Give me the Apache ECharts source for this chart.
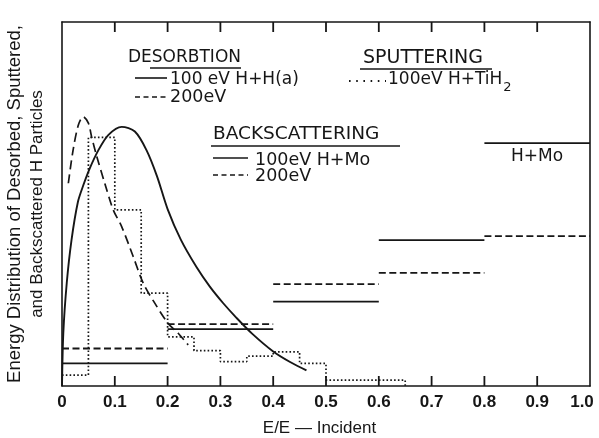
<!DOCTYPE html>
<html>
<head>
<meta charset="utf-8">
<script src="https://cdn.jsdelivr.net/npm/echarts@6/dist/echarts.min.js"></script>
<style>
  html, body { margin: 0; padding: 0; background: #fff; }
  #chart { width: 599px; height: 438px; }
</style>
</head>
<body>
<div id="chart"></div>
<script>
// Tick positions along E/E-incident
const xTicks = [0, 0.1, 0.2, 0.3, 0.4, 0.5, 0.6, 0.7, 0.8, 0.9, 1.0];

// Desorption, 100 eV H+H(a): [E/E0, relative yield]
const desorb100E = [0, 0.0025, 0.009, 0.018, 0.030, 0.040, 0.052, 0.069, 0.088, 0.113, 0.138, 0.160, 0.180, 0.200, 0.225, 0.255, 0.280, 0.305, 0.330, 0.360, 0.400, 0.432, 0.463];
const desorb100Y = [0, 14.6, 28.3, 40.1, 50.5, 55.0, 59.6, 64.8, 69.0, 71.2, 69.9, 64.8, 57.6, 48.6, 40.2, 32.6, 27.3, 22.8, 18.8, 14.4, 9.5, 6.6, 4.3];

// Desorption, 200 eV
const desorb200E = [0.012, 0.021, 0.031, 0.040, 0.050, 0.056, 0.066, 0.081, 0.097, 0.113, 0.135, 0.154, 0.176, 0.201, 0.220, 0.239];
const desorb200Y = [55.7, 64.8, 71.7, 74.0, 72.2, 68.5, 63.0, 55.7, 48.4, 43.8, 35.5, 28.2, 22.7, 17.2, 14.5, 11.3];

// Sputtering, 100 eV H+TiH2 (histogram bins)
const sputterEdges = [0, 0.05, 0.1, 0.15, 0.2, 0.25, 0.3, 0.35, 0.4, 0.45, 0.5, 0.65];
const sputterValues = [3.0, 68.3, 48.4, 25.5, 13.5, 9.7, 6.7, 8.2, 9.4, 6.2, 1.6];

// Backscattering from Mo (histogram bins)
const backEdges = [0, 0.2, 0.4, 0.6, 0.8, 1.0];
const back100 = [6.2, 15.6, 23.2, 40.1, 66.7];
const back200 = [10.3, 17.0, 28.0, 31.1, 41.2];

const INK = '#161616';
const FONT = '"Liberation Sans", Arial, sans-serif';
const KEYFONT = '"DejaVu Sans", Verdana, sans-serif';
const TICK_LEN = 10;
const TICK_W = 1.8;
const Y_MIN = 0, Y_MAX = 100;

function pairs(xs, ys) { return xs.map((x, i) => [x, ys[i]]); }

// step outline of a histogram, closed down to zero at the last edge
function stepOutline(edges, vals) {
  const pts = vals.map((v, i) => [edges[i], v]);
  const last = edges[edges.length - 1];
  pts.push([last, vals[vals.length - 1]]);
  pts.push([last, 0]);
  return pts;
}

// separate horizontal segments, one per bin
function binSegments(edges, vals) {
  const pts = [];
  vals.forEach((v, i) => {
    pts.push([edges[i], v]);
    pts.push([edges[i + 1], v]);
    pts.push([edges[i + 1], '-']);
  });
  return pts;
}

function textWidth(str, font) {
  const ctx = document.createElement('canvas').getContext('2d');
  ctx.font = font;
  return ctx.measureText(str).width;
}

const chart = echarts.init(document.getElementById('chart'), null, { renderer: 'canvas' });

function frameLine() { return { show: true, onZero: false, lineStyle: { color: INK, width: 1.6, type: 'solid' } }; }

function keyText(str, x, y, size) {
  return { type: 'text', style: { text: str, x: x, y: y, verticalAlign: 'middle', font: size + 'px ' + KEYFONT, fill: INK } };
}
function keyLine(x1, y, x2, dash, width) {
  return { type: 'line', shape: { x1: x1, y1: y, x2: x2, y2: y }, style: { stroke: INK, lineWidth: width || 1.6, lineDash: dash || null } };
}

const sputLabel = '100eV H+TiH';
const sputFont = '17px ' + KEYFONT;
const sputX = 388;
const subX = sputX + textWidth(sputLabel, sputFont) + 1;

const keyGraphics = [
  // DESORBTION key
  keyText('DESORBTION', 128, 58, 17),
  keyLine(150, 68, 241, null, 1.5),
  keyLine(135, 78, 167),
  keyText('100 eV H+H(a)', 170, 80, 17),
  keyLine(135, 97, 167, [5, 3.5]),
  keyText('200eV', 170, 97, 17.5),

  // SPUTTERING key
  keyText('SPUTTERING', 363, 58, 19),
  keyLine(360, 69, 492, null, 1.5),
  keyLine(349, 81, 386, [1.6, 5.6], 1.8),
  { type: 'text', style: { text: sputLabel, x: sputX, y: 80, verticalAlign: 'middle', font: sputFont, fill: INK } },
  { type: 'text', style: { text: '2', x: subX, y: 88, verticalAlign: 'middle', font: '13px ' + KEYFONT, fill: INK } },

  // BACKSCATTERING key
  keyText('BACKSCATTERING', 213, 134, 18.5),
  keyLine(211, 146, 400, null, 1.5),
  keyLine(213, 158, 248),
  keyText('100eV H+Mo', 255, 160, 17.5),
  keyLine(213, 175, 248, [5, 3.5]),
  keyText('200eV', 255, 176, 17.5),

  // target label for the high-energy bins
  keyText('H+Mo', 511, 157, 17)
];

const option = {
  backgroundColor: '#fff',
  animation: false,
  grid: { left: 62, right: 9, top: 22, bottom: 52, containLabel: false, outerBoundsMode: 'none' },
  xAxis: [
    {
      type: 'value', min: 0, max: 1, interval: 0.1, position: 'bottom',
      axisLine: frameLine(),
      axisTick: { show: false },
      splitLine: { show: false },
      axisLabel: {
        show: true, margin: 8, color: INK, fontFamily: FONT, fontSize: 17, fontWeight: 'bold',
        formatter: v => {
          const t = xTicks.find(k => Math.abs(k - v) < 1e-6);
          if (t === undefined) return '';
          if (t === 0) return '0';
          if (t === 1) return '{last|1.0}';
          return t.toFixed(1);
        },
        rich: { last: { padding: [0, 16, 0, 0], fontFamily: FONT, fontSize: 17, fontWeight: 'bold', color: INK } }
      },
      name: 'E/E \u2014 Incident', nameLocation: 'middle', nameGap: 34,
      nameTextStyle: { color: INK, fontFamily: FONT, fontSize: 17, padding: [0, 13, 0, 0] }
    },
    {
      type: 'value', min: 0, max: 1, interval: 0.1, position: 'top',
      axisLine: frameLine(),
      axisTick: { show: false },
      axisLabel: { show: false }, splitLine: { show: false }
    }
  ],
  yAxis: [
    {
      type: 'value', min: Y_MIN, max: Y_MAX, position: 'left',
      axisLine: frameLine(),
      axisTick: { show: false }, axisLabel: { show: false }, splitLine: { show: false },
      name: '{a|Energy Distribution of Desorbed, Sputtered,}\n{b|and Backscattered H Particles}',
      nameLocation: 'middle', nameRotate: 90, nameGap: 13,
      nameTextStyle: {
        color: INK, fontFamily: FONT, align: 'center',
        rich: {
          a: { fontFamily: FONT, fontSize: 18.5, lineHeight: 23, color: INK },
          b: { fontFamily: FONT, fontSize: 17, lineHeight: 23, color: INK }
        }
      }
    },
    {
      type: 'value', min: Y_MIN, max: Y_MAX, position: 'right',
      axisLine: frameLine(),
      axisTick: { show: false }, axisLabel: { show: false }, splitLine: { show: false }
    }
  ],
  series: [
    {
      name: 'Desorption 100 eV', type: 'line', smooth: 0.3, symbol: 'none',
      data: pairs(desorb100E, desorb100Y),
      lineStyle: { color: INK, width: 1.9, type: 'solid' }
    },
    {
      name: 'Desorption 200 eV', type: 'line', smooth: 0.3, symbol: 'none',
      data: pairs(desorb200E, desorb200Y),
      lineStyle: { color: INK, width: 1.7, type: [9, 5] }
    },
    {
      name: 'Sputtering 100 eV', type: 'line', step: 'end', symbol: 'none',
      data: stepOutline(sputterEdges, sputterValues),
      lineStyle: { color: INK, width: 1.7, type: [1.6, 2.2] }
    },
    {
      name: 'Backscattering 100 eV', type: 'line', symbol: 'none', connectNulls: false,
      data: binSegments(backEdges, back100),
      lineStyle: { color: INK, width: 1.8, type: 'solid' }
    },
    {
      name: 'Backscattering 200 eV', type: 'line', symbol: 'none', connectNulls: false,
      data: binSegments(backEdges, back200),
      lineStyle: { color: INK, width: 1.8, type: [7, 3.5] }
    }
  ],
  graphic: keyGraphics
};

chart.setOption(option);

// inward tick marks on the bottom and top frame edges, as thin filled bars
// placed through the axis scales
const finder = { xAxisIndex: 0, yAxisIndex: 0 };
const tickGraphics = [];
xTicks.filter(t => t > 0 && t < 1).forEach(t => {
  const b = chart.convertToPixel(finder, [t, Y_MIN]);
  const u = chart.convertToPixel(finder, [t, Y_MAX]);
  if (!b || !u) return;
  tickGraphics.push({ type: 'rect', z: 10, shape: { x: b[0] - TICK_W / 2, y: b[1] - TICK_LEN, width: TICK_W, height: TICK_LEN }, style: { fill: INK } });
  tickGraphics.push({ type: 'rect', z: 10, shape: { x: u[0] - TICK_W / 2, y: u[1], width: TICK_W, height: TICK_LEN }, style: { fill: INK } });
});
chart.setOption({ graphic: keyGraphics.concat(tickGraphics) });
</script>
</body>
</html>
